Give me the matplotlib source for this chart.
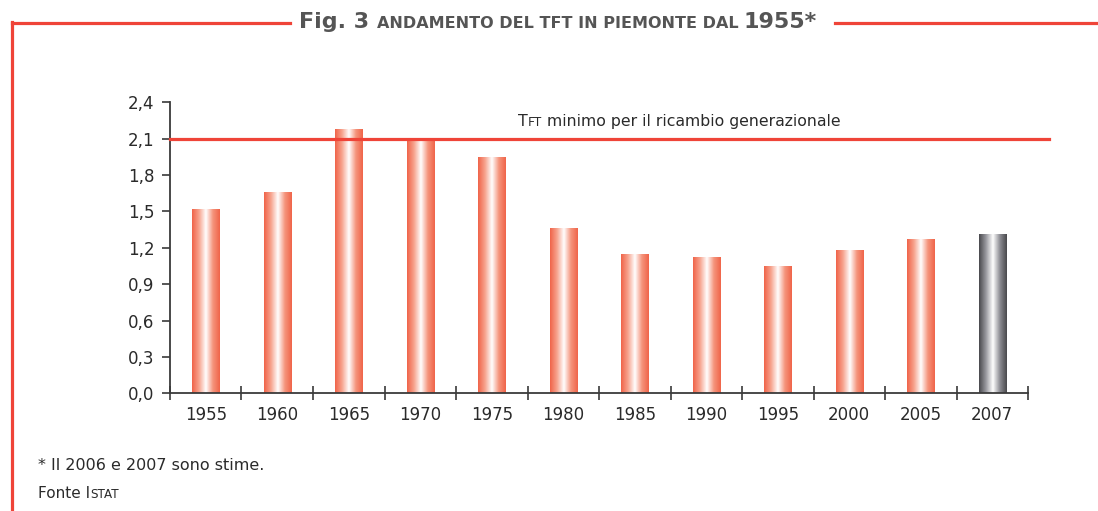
import numpy as np
import matplotlib
matplotlib.use("Agg")
import matplotlib.pyplot as plt
from matplotlib.lines import Line2D
from matplotlib.offsetbox import TextArea, HPacker, AnnotationBbox
from matplotlib.colors import LinearSegmentedColormap

plt.rcParams['font.family'] = ['DejaVu Sans']

years = ["1955", "1960", "1965", "1970", "1975", "1980",
         "1985", "1990", "1995", "2000", "2005", "2007"]
tft = [1.52, 1.66, 2.18, 2.10, 1.95, 1.36, 1.15, 1.12, 1.05, 1.18, 1.27, 1.31]
estimate = [False] * 11 + [True]
threshold = 2.1
yticks = [0.0, 0.3, 0.6, 0.9, 1.2, 1.5, 1.8, 2.1, 2.4]

red = "#ef4438"
axcol = "#3a3a3a"
txtcol = "#2a2a2a"

W, H = 1098, 511
fig = plt.figure(figsize=(W / 100, H / 100), dpi=100)
ax = fig.add_axes([170 / W, 1 - 393.3 / H, (1028 - 170) / W, (393.3 - 102.3) / H])


def smallcaps(parts, size, color, weight="normal"):
    # parts: list of (text, scale)
    boxes = [TextArea(t, textprops=dict(fontsize=size * sc, color=color, fontweight=weight))
             for t, sc in parts]
    return HPacker(children=boxes, align="baseline", pad=0, sep=0)


# bars with gradient fill
x = np.arange(len(years))
bars = ax.bar(x, tft, width=0.38, color="none", edgecolor="none", zorder=2)
red_cmap = LinearSegmentedColormap.from_list("r", ["#f0654a", "#f7a48f", "#ffffff", "#f5957d", "#f0654a"])
grey_cmap = LinearSegmentedColormap.from_list("g", ["#4a4a4e", "#9a9aa0", "#ffffff", "#8e8e94", "#4a4a4e"])
grad = np.linspace(0, 1, 64).reshape(1, -1)
for b, est in zip(bars, estimate):
    x0, w, h = b.get_x(), b.get_width(), b.get_height()
    im = ax.imshow(grad, cmap=grey_cmap if est else red_cmap, aspect="auto",
                   extent=(x0, x0 + w, 0, h), zorder=2, interpolation="bilinear")
    im.set_clip_path(b)

# threshold line
ax.plot([-0.5, 11.8], [threshold, threshold], color=red, lw=2.3, clip_on=False, zorder=3)
lab = smallcaps([("T", 1.0), ("FT", 0.78), (" minimo per il ricambio generazionale", 1.0)], 11.3, txtcol)
ax.add_artist(AnnotationBbox(lab, (4.37, 2.245), xycoords="data", box_alignment=(0, 0.5),
                             frameon=False, annotation_clip=False))

ax.set_xlim(-0.5, 11.5)
ax.set_ylim(0, 2.4)
ax.set_yticks(yticks)
ax.set_yticklabels([f"{v:.1f}".replace(".", ",") for v in yticks])
ax.set_xticks(x)
ax.set_xticklabels(years)
ax.set_xticks(np.arange(-0.5, 12, 1), minor=True)
ax.tick_params(axis="x", which="major", length=0, pad=9, labelsize=12, labelcolor=txtcol)
ax.tick_params(axis="x", which="minor", direction="inout", length=10, width=1.2, color=axcol)
ax.tick_params(axis="y", direction="out", length=6, width=1.2, color=axcol, labelsize=12,
               labelcolor=txtcol, pad=5)
for s in ["top", "right"]:
    ax.spines[s].set_visible(False)
for s in ["left", "bottom"]:
    ax.spines[s].set_color(axcol)
    ax.spines[s].set_linewidth(1.3)

# frame lines
ty = 1 - 23 / H
fig.add_artist(Line2D([12 / W, 290 / W], [ty, ty], color=red, lw=2.3))
fig.add_artist(Line2D([835 / W, 1], [ty, ty], color=red, lw=2.3))
fig.add_artist(Line2D([12 / W, 12 / W], [ty + 0.002, 0], color=red, lw=2.3))

# title
title = smallcaps([("Fig. 3 ", 1.0), ("ANDAMENTO DEL TFT IN PIEMONTE DAL ", 0.72), ("1955*", 1.0)],
                  16, "#555555", weight="bold")
fig.add_artist(AnnotationBbox(title, (558 / W, 1 - 22 / H), xycoords="figure fraction",
                              box_alignment=(0.5, 0.5), frameon=False))

# footnotes
fig.text(38 / W, 1 - 465 / H, "* Il 2006 e 2007 sono stime.", fontsize=11.5, color=txtcol, va="center")
src = smallcaps([("Fonte I", 1.0), ("STAT", 0.78)], 11, txtcol)
fig.add_artist(AnnotationBbox(src, (38 / W, 1 - 493 / H), xycoords="figure fraction",
                              box_alignment=(0, 0.5), frameon=False))

fig.savefig("out.png", dpi=100)
